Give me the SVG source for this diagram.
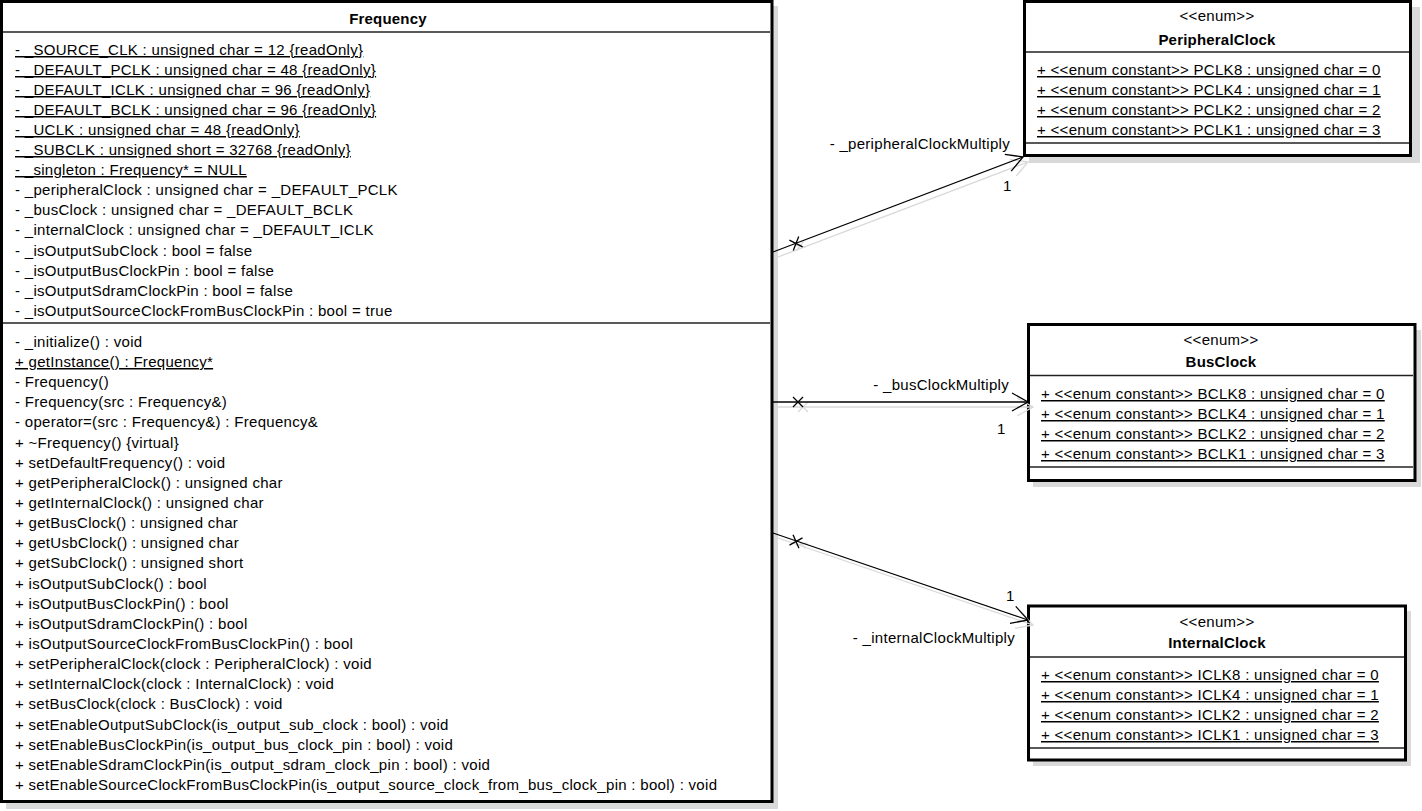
<svg xmlns="http://www.w3.org/2000/svg" width="1422" height="811" viewBox="0 0 1422 811">
<style>
text{font-family:"Liberation Sans",Arial,sans-serif;font-size:15px;letter-spacing:0.3px;fill:#000}
.b{font-weight:bold;letter-spacing:0.2px}
.c{text-anchor:middle}
.r{text-anchor:end}
.u{text-decoration:underline}
.box{fill:#fff;stroke:#000;stroke-width:3}
.sh{fill:#d9d9d9}
.sep{stroke:#222;stroke-width:1.3}
.ln{stroke:#000;stroke-width:1.3;fill:none}
.lns{stroke:#d9d9d9;stroke-width:1.3;fill:none}
</style>
<defs>
<marker id="arr" markerUnits="userSpaceOnUse" markerWidth="20" markerHeight="20" refX="17" refY="10" orient="auto" overflow="visible">
<path d="M1,1 L17,10 L1,19" fill="none" stroke="#000" stroke-width="1.3"/>
</marker>
<marker id="arrs" markerUnits="userSpaceOnUse" markerWidth="20" markerHeight="20" refX="17" refY="10" orient="auto" overflow="visible">
<path d="M1,1 L17,10 L1,19" fill="none" stroke="#d9d9d9" stroke-width="1.3"/>
</marker>
</defs>

<g id="Frequency">
<rect class="sh" x="6" y="6" width="772" height="803"/>
<rect class="box" x="1.5" y="1.5" width="770.5" height="800"/>
<line class="sep" x1="3" y1="32" x2="770" y2="32"/>
<line class="sep" x1="3" y1="323" x2="770" y2="323"/>
<text class="b c" x="388" y="24">Frequency</text>
<text class="u" x="15" y="55">-  _SOURCE_CLK : unsigned char = 12 {readOnly}</text>
<text class="u" x="15" y="75">-  _DEFAULT_PCLK : unsigned char = 48 {readOnly}</text>
<text class="u" x="15" y="95">-  _DEFAULT_ICLK : unsigned char = 96 {readOnly}</text>
<text class="u" x="15" y="115">-  _DEFAULT_BCLK : unsigned char = 96 {readOnly}</text>
<text class="u" x="15" y="135">- _UCLK : unsigned char = 48 {readOnly}</text>
<text class="u" x="15" y="155">- _SUBCLK : unsigned short = 32768 {readOnly}</text>
<text class="u" x="15" y="175">- _singleton : Frequency* = NULL</text>
<text x="15" y="195">- _peripheralClock : unsigned char = _DEFAULT_PCLK</text>
<text x="15" y="215">- _busClock : unsigned char = _DEFAULT_BCLK</text>
<text x="15" y="235">- _internalClock : unsigned char = _DEFAULT_ICLK</text>
<text x="15" y="256">- _isOutputSubClock : bool = false</text>
<text x="15" y="276">- _isOutputBusClockPin : bool = false</text>
<text x="15" y="296">- _isOutputSdramClockPin : bool = false</text>
<text x="15" y="316">- _isOutputSourceClockFromBusClockPin : bool = true</text>
<text x="15" y="347">- _initialize() : void</text>
<text class="u" x="15" y="367">+ getInstance() : Frequency*</text>
<text x="15" y="387">- Frequency()</text>
<text x="15" y="407">- Frequency(src : Frequency&amp;)</text>
<text x="15" y="427">- operator=(src : Frequency&amp;) : Frequency&amp;</text>
<text x="15" y="448">+ ~Frequency() {virtual}</text>
<text x="15" y="468">+ setDefaultFrequency() : void</text>
<text x="15" y="488">+ getPeripheralClock() : unsigned char</text>
<text x="15" y="508">+ getInternalClock() : unsigned char</text>
<text x="15" y="528">+ getBusClock() : unsigned char</text>
<text x="15" y="548">+ getUsbClock() : unsigned char</text>
<text x="15" y="568">+ getSubClock() : unsigned short</text>
<text x="15" y="589">+ isOutputSubClock() : bool</text>
<text x="15" y="609">+ isOutputBusClockPin() : bool</text>
<text x="15" y="629">+ isOutputSdramClockPin() : bool</text>
<text x="15" y="649">+ isOutputSourceClockFromBusClockPin() : bool</text>
<text x="15" y="669">+ setPeripheralClock(clock : PeripheralClock) : void</text>
<text x="15" y="689">+ setInternalClock(clock : InternalClock) : void</text>
<text x="15" y="709">+ setBusClock(clock : BusClock) : void</text>
<text x="15" y="730">+ setEnableOutputSubClock(is_output_sub_clock : bool) : void</text>
<text x="15" y="750">+ setEnableBusClockPin(is_output_bus_clock_pin : bool) : void</text>
<text x="15" y="770">+ setEnableSdramClockPin(is_output_sdram_clock_pin : bool) : void</text>
<text x="15" y="790">+ setEnableSourceClockFromBusClockPin(is_output_source_clock_from_bus_clock_pin : bool) : void</text>
</g>

<g id="PeripheralClock">
<rect class="sh" x="1029" y="7" width="391" height="156"/>
<rect class="box" x="1024.5" y="1.5" width="386" height="154"/>
<line class="sep" x1="1026" y1="52" x2="1409" y2="52"/>
<line class="sep" x1="1026" y1="143" x2="1409" y2="143"/>
<text class="c" x="1217" y="21">&lt;&lt;enum&gt;&gt;</text>
<text class="b c" x="1217" y="45">PeripheralClock</text>
<text class="u" x="1037" y="75">+ &lt;&lt;enum constant&gt;&gt; PCLK8 : unsigned char = 0</text>
<text class="u" x="1037" y="95">+ &lt;&lt;enum constant&gt;&gt; PCLK4 : unsigned char = 1</text>
<text class="u" x="1037" y="115">+ &lt;&lt;enum constant&gt;&gt; PCLK2 : unsigned char = 2</text>
<text class="u" x="1037" y="135">+ &lt;&lt;enum constant&gt;&gt; PCLK1 : unsigned char = 3</text>
</g>

<g id="BusClock">
<rect class="sh" x="1033" y="330" width="388" height="157"/>
<rect class="box" x="1028.5" y="324.5" width="386.5" height="156"/>
<line class="sep" x1="1030" y1="375.5" x2="1413" y2="375.5"/>
<line class="sep" x1="1030" y1="467" x2="1413" y2="467"/>
<text class="c" x="1221" y="345">&lt;&lt;enum&gt;&gt;</text>
<text class="b c" x="1221" y="367">BusClock</text>
<text class="u" x="1041" y="399">+ &lt;&lt;enum constant&gt;&gt; BCLK8 : unsigned char = 0</text>
<text class="u" x="1041" y="419">+ &lt;&lt;enum constant&gt;&gt; BCLK4 : unsigned char = 1</text>
<text class="u" x="1041" y="439">+ &lt;&lt;enum constant&gt;&gt; BCLK2 : unsigned char = 2</text>
<text class="u" x="1041" y="459">+ &lt;&lt;enum constant&gt;&gt; BCLK1 : unsigned char = 3</text>
</g>

<g id="InternalClock">
<rect class="sh" x="1033" y="611" width="378" height="155"/>
<rect class="box" x="1028.5" y="606" width="377" height="154"/>
<line class="sep" x1="1030" y1="657" x2="1404" y2="657"/>
<line class="sep" x1="1030" y1="748" x2="1404" y2="748"/>
<text class="c" x="1217" y="627">&lt;&lt;enum&gt;&gt;</text>
<text class="b c" x="1217" y="648">InternalClock</text>
<text class="u" x="1041" y="680">+ &lt;&lt;enum constant&gt;&gt; ICLK8 : unsigned char = 0</text>
<text class="u" x="1041" y="700">+ &lt;&lt;enum constant&gt;&gt; ICLK4 : unsigned char = 1</text>
<text class="u" x="1041" y="720">+ &lt;&lt;enum constant&gt;&gt; ICLK2 : unsigned char = 2</text>
<text class="u" x="1041" y="740">+ &lt;&lt;enum constant&gt;&gt; ICLK1 : unsigned char = 3</text>
</g>

<g id="connectors">
<g id="shadows">
<line class="lns" x1="778" y1="257" x2="1028" y2="162" marker-end="url(#arrs)"/>
<path class="lns" d="M796,243 l10,6 M806,243 l-10,6" transform="rotate(-20.8 801 249)"/>
<line class="lns" x1="777" y1="407" x2="1033" y2="407" marker-end="url(#arrs)"/>
<path class="lns" d="M798,402 l10,10 M808,402 l-10,10"/>
<line class="lns" x1="778" y1="538" x2="1033" y2="625" marker-end="url(#arrs)"/>
<path class="lns" d="M796,541 l10,6 M806,541 l-10,6" transform="rotate(18.8 801 546)"/>
</g>
<g id="c1">
<line class="ln" x1="773" y1="252" x2="1023" y2="157" marker-end="url(#arr)"/>
<path class="ln" d="M791,238 l10,11 M801,238 l-10,11" transform="rotate(-20.8 796 243.5)"/>
<text class="r" x="1010" y="149">- _peripheralClockMultiply</text>
<text x="1003" y="191">1</text>
</g>
<g id="c2">
<line class="ln" x1="772" y1="402" x2="1028" y2="402" marker-end="url(#arr)"/>
<path class="ln" d="M793,397 l10,10 M803,397 l-10,10"/>
<text class="r" x="1009" y="390">- _busClockMultiply</text>
<text x="997" y="434">1</text>
</g>
<g id="c3">
<line class="ln" x1="773" y1="533" x2="1028" y2="620" marker-end="url(#arr)"/>
<path class="ln" d="M791,536 l10,11 M801,536 l-10,11" transform="rotate(18.8 796 541.5)"/>
<text class="r" x="1015" y="643">- _internalClockMultiply</text>
<text x="1006" y="601">1</text>
</g>
</g>
</svg>
